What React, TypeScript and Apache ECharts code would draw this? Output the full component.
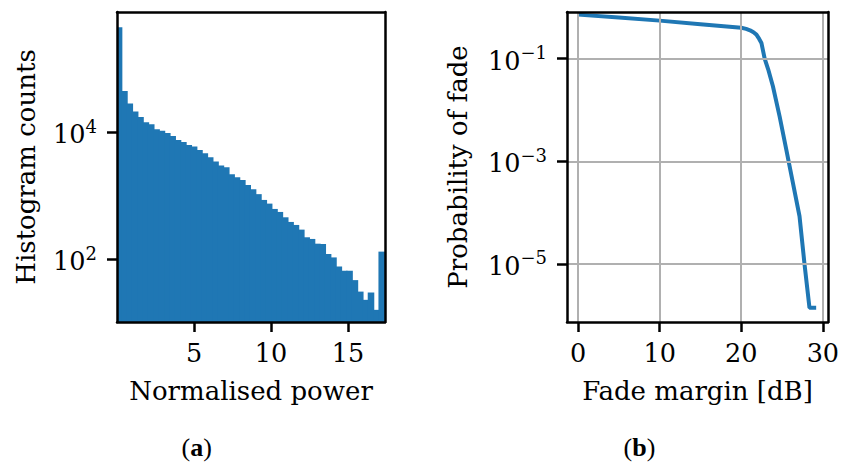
import React, { useEffect, useRef } from "react";
import * as echarts from "echarts";

// ---- Panel (a): histogram ----
const histXMin = 0;
const histXMax = 17.4;
const histCounts = [
  450000, 44700, 28300, 21100, 17400, 14400, 13400, 11100, 10500, 9750,
  8740, 7570, 7040, 6310, 5940, 5260, 4660, 4040, 3450, 2980,
  2800, 2180, 1950, 1770, 1480, 1260, 1060, 859, 752, 620,
  556, 458, 387, 347, 293, 222, 209, 176, 174, 121,
  107, 77, 66, 66, 47, 31, 23, 30, 16, 132,
];
const histYMin = 10.3;
const histYMax = 7.8e5;
const histXTicks = [5, 10, 15];
const histYTicks = [1e2, 1e4];

// ---- Panel (b): probability of fade ----
const fadeMargin = [0, 5, 10, 15, 20, 20.6, 21.07, 21.5, 21.86, 22.2, 22.47, 22.87, 23.3, 23.88, 24.7, 25.52, 26.33, 27.14, 27.75, 28.36, 29.18];
const fadeProb = [0.72, 0.63, 0.55, 0.47, 0.4, 0.38, 0.356, 0.326, 0.294, 0.242, 0.202, 0.1, 0.0620, 0.0289, 0.0075, 0.00168, 3.8e-4, 8.5e-5, 1e-5, 1.4e-6, 1.4e-6];
const fadeXMin = -1.35;
const fadeXMax = 30.63;
const fadeYMin = 7.4e-7;
const fadeYMax = 0.81;
const fadeXTicks = [0, 10, 20, 30];
const fadeYTicks = [1e-5, 1e-3, 1e-1];

const FONT = "DejaVu Serif";
const BLUE = "#1f77b4";

const supFmt = (v: number) => {
  const e = Math.round(Math.log10(v));
  const s = e < 0 ? "\u2212" + -e : String(e);
  return `{b|10}{s|${s}}`;
};
const yRich = {
  b: { fontSize: 25.5, fontFamily: FONT, color: "#000", lineHeight: 30, verticalAlign: "bottom" },
  s: { fontSize: 18, fontFamily: FONT, color: "#000", lineHeight: 20, verticalAlign: "top" },
};
const spine = { color: "#000", width: 2.5 };
const nameStyle = { fontFamily: FONT, fontSize: 26, color: "#000" };
const tickLabel = { fontFamily: FONT, fontSize: 25.5, color: "#000" };

function frameAxisX(gridIndex: number) {
  return {
    gridIndex, type: "value", position: "top", min: 0, max: 1, z: 5,
    axisLine: { show: true, onZero: false, lineStyle: spine },
    axisTick: { show: false }, axisLabel: { show: false }, splitLine: { show: false },
  };
}
function frameAxisY(gridIndex: number) {
  return {
    gridIndex, type: "value", position: "right", min: 0, max: 1, z: 5,
    axisLine: { show: true, onZero: false, lineStyle: spine },
    axisTick: { show: false }, axisLabel: { show: false }, splitLine: { show: false },
  };
}

export default function App() {
  const ref = useRef<HTMLDivElement>(null);
  useEffect(() => {
    const chart = echarts.init(ref.current!, null, { renderer: "svg" });
    const binW = (histXMax - histXMin) / histCounts.length;
    const histData = histCounts.map((c, i) => [histXMin + i * binW, histXMin + (i + 1) * binW, c]);
    const caption = (letter: string, x: number) => ({
      type: "text", x, y: 447, z: 10,
      style: {
        text: `({b|${letter}})`, fontFamily: "Liberation Serif", fontSize: 26, lineHeight: 26, fill: "#000",
        align: "center", verticalAlign: "middle",
        rich: { b: { fontFamily: "Liberation Serif", fontSize: 26, lineHeight: 26, fontWeight: "bold", fill: "#000" } },
      },
    });
    const option: any = {
      animation: false,
      backgroundColor: "#fff",
      grid: [
        { left: 117, top: 12, width: 268, height: 310 },
        { left: 567, top: 12, width: 261, height: 310 },
      ],
      xAxis: [
        {
          gridIndex: 0, type: "value", min: histXMin, max: histXMax, position: "bottom", z: 5,
          axisLine: { show: true, onZero: false, lineStyle: spine },
          axisTick: { show: true, length: 10, lineStyle: spine, customValues: histXTicks },
          axisLabel: { ...tickLabel, margin: 18, customValues: histXTicks },
          splitLine: { show: false },
          name: "Normalised power", nameLocation: "middle", nameGap: 56, nameTextStyle: nameStyle,
        },
        {
          gridIndex: 1, type: "value", min: fadeXMin, max: fadeXMax, position: "bottom", z: 5,
          axisLine: { show: true, onZero: false, lineStyle: spine },
          axisTick: { show: true, length: 10, lineStyle: spine, customValues: fadeXTicks },
          axisLabel: { ...tickLabel, margin: 18, customValues: fadeXTicks },
          splitLine: { show: true, lineStyle: { color: "#b0b0b0", width: 2 } },
          name: "Fade margin [dB]", nameLocation: "middle", nameGap: 56, nameTextStyle: nameStyle,
        },
        frameAxisX(0),
        frameAxisX(1),
      ],
      yAxis: [
        {
          gridIndex: 0, type: "log", logBase: 10, min: histYMin, max: histYMax, z: 5,
          axisLine: { show: true, onZero: false, lineStyle: spine },
          axisTick: { show: true, length: 10, lineStyle: spine, customValues: histYTicks },
          axisLabel: { formatter: supFmt, rich: yRich, margin: 20, customValues: histYTicks },
          splitLine: { show: false },
          name: "Histogram counts", nameLocation: "middle", nameGap: 78, nameRotate: 90, nameTextStyle: nameStyle,
        },
        {
          gridIndex: 1, type: "log", logBase: 10, min: fadeYMin, max: fadeYMax, z: 5,
          axisLine: { show: true, onZero: false, lineStyle: spine },
          axisTick: { show: true, length: 10, lineStyle: spine, customValues: fadeYTicks },
          axisLabel: { formatter: supFmt, rich: yRich, margin: 20, customValues: fadeYTicks },
          splitLine: { show: true, lineStyle: { color: "#b0b0b0", width: 2 } },
          name: "Probability of fade", nameLocation: "middle", nameGap: 96, nameRotate: 90, nameTextStyle: nameStyle,
        },
        frameAxisY(0),
        frameAxisY(1),
      ],
      series: [
        {
          type: "custom", xAxisIndex: 0, yAxisIndex: 0, z: 2,
          data: histData,
          encode: { x: [0, 1], y: 2 },
          renderItem: (_p: any, api: any) => {
            const a = api.coord([api.value(0), api.value(2)]);
            const b = api.coord([api.value(1), histYMin]);
            const overlap = _p.dataIndex > 0 ? 1.2 : 0;
            return {
              type: "rect",
              shape: { x: a[0] - overlap, y: a[1], width: b[0] - a[0] + overlap, height: b[1] - a[1] },
              style: { fill: BLUE },
            };
          },
        },
        {
          type: "line", xAxisIndex: 1, yAxisIndex: 1, z: 3,
          data: fadeMargin.map((x, i) => [x, fadeProb[i]]),
          symbol: "none", showSymbol: false,
          lineStyle: { color: BLUE, width: 4 },
        },
      ],
      graphic: [caption("a", 196.7), caption("b", 639.5)],
    };
    chart.setOption(option);
    return () => chart.dispose();
  }, []);
  return (
    <div
      ref={ref}
      style={{ position: "absolute", left: 0, top: 0, width: 843, height: 462, background: "#fff" }}
    />
  );
}
